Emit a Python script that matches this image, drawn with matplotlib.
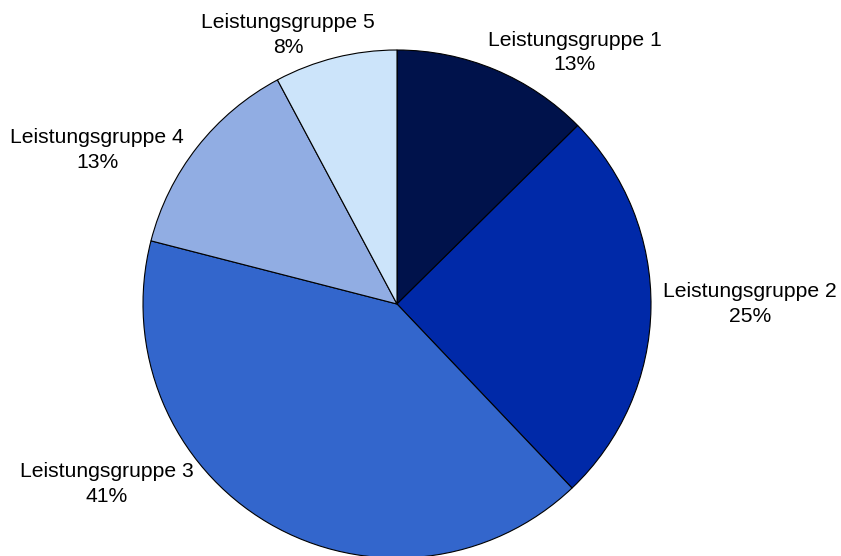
import matplotlib.pyplot as plt

# Anteile der Leistungsgruppen (%)
gruppen = ["Leistungsgruppe 1", "Leistungsgruppe 2", "Leistungsgruppe 3",
           "Leistungsgruppe 4", "Leistungsgruppe 5"]
anteile = [12.6, 25.3, 41.1, 13.2, 7.8]
farben = ["#00124b", "#0029a8", "#3366cc", "#91ade3", "#cce4fa"]

# Positionen der Beschriftungen (Radius-Einheiten)
label_pos = [(0.70, 0.99), (1.39, 0.0), (-1.142, -0.709),
             (-1.181, 0.605), (-0.429, 1.06)]

plt.rcParams['font.family'] = ['Liberation Sans', 'DejaVu Sans']

fig = plt.figure(figsize=(8.41, 5.56), dpi=100)
ax = fig.add_axes([0, 0, 1, 1])

ax.pie(anteile, colors=farben, startangle=90, counterclock=False,
       radius=1.0, wedgeprops=dict(edgecolor="black", linewidth=0.8))

for name, wert, (x, y) in zip(gruppen, anteile, label_pos):
    ax.text(x, y, "%s\n%.0f%%" % (name, wert), ha="center", va="center",
            fontsize=15.2, linespacing=1.38, color="black")

ax.set_xlim(-397 / 254, (841 - 397) / 254)
ax.set_ylim(-252 / 254, 304 / 254)
ax.set_aspect("equal", adjustable="box")
ax.axis("off")

fig.savefig("out.png", dpi=100)
